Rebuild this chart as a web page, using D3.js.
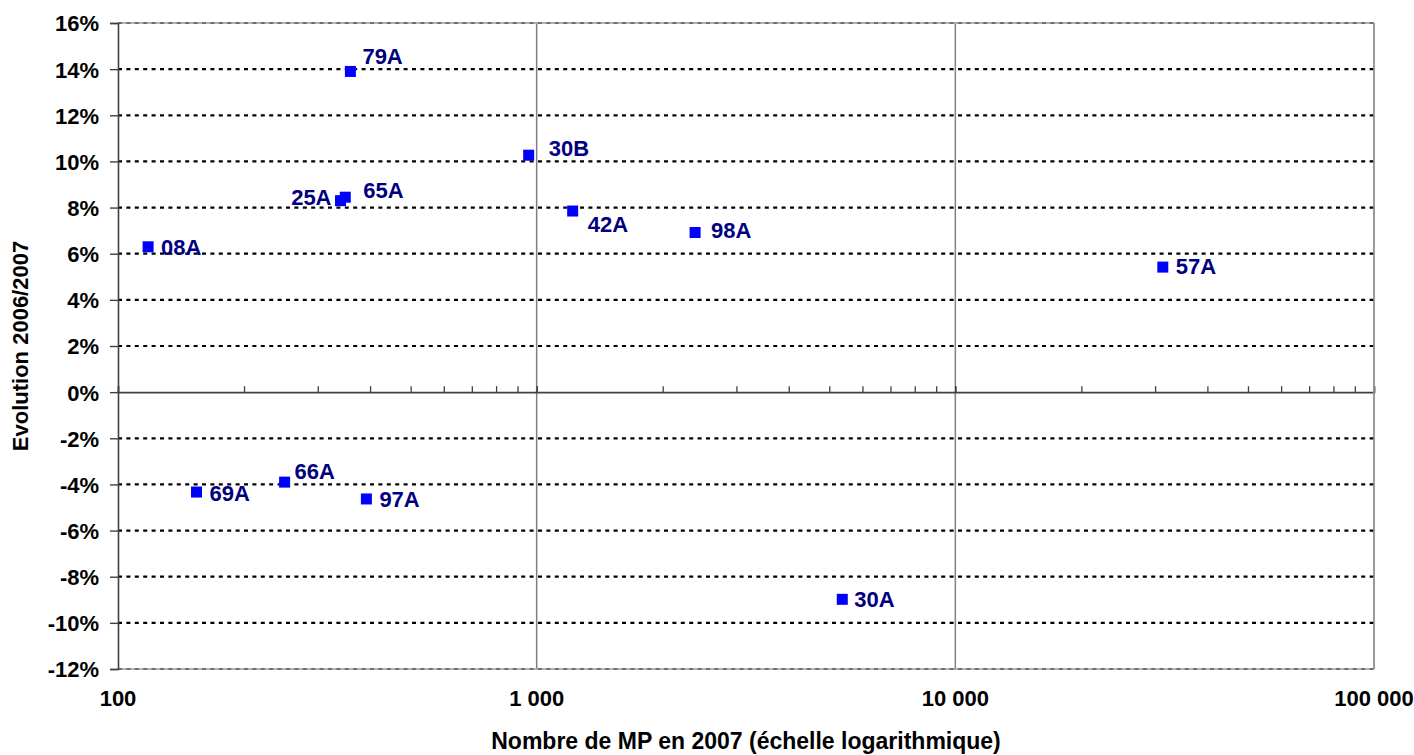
<!DOCTYPE html>
<html>
<head>
<meta charset="utf-8">
<script src="https://cdn.jsdelivr.net/npm/d3@7"></script>
<style>
  body { margin: 0; background: #fff; }
  text { font-family: "Liberation Sans", Arial, sans-serif; font-weight: bold; }
</style>
</head>
<body>
<div id="chart"></div>
<script>
// Data
var names   = ["08A", "79A", "25A", "65A", "30B", "42A", "98A", "57A", "69A", "66A", "97A", "30A"];
var nbMP    = [118, 359, 340, 349, 957, 1219, 2390, 31300, 154, 250, 392, 5370];
var evol    = [6.3, 13.9, 8.3, 8.45, 10.27, 7.85, 6.92, 5.42, -4.33, -3.9, -4.63, -8.98];
var yTicks  = [16, 14, 12, 10, 8, 6, 4, 2, 0, -2, -4, -6, -8, -10, -12];
var xTicks  = [100, 1000, 10000, 100000];

// label placement (offset from the marker, text anchor)
var labelPos = {
    "08A": [13, 8, "start"], "79A": [12, -7, "start"], "25A": [-9, 4, "end"],
    "65A": [18, 1, "start"], "30B": [20, 1, "start"], "42A": [15, 21, "start"],
    "98A": [16, 6, "start"], "57A": [13, 7, "start"], "69A": [13, 9, "start"],
    "66A": [10, -3, "start"], "97A": [13, 8, "start"], "30A": [12, 8, "start"]
};

function init() {
    var points = names.map((n, i) => ({ name: n, x: nbMP[i], y: evol[i] }));
    drawChart(points);
}

function drawChart(points) {
    var w = 1414, h = 755;
    var margin = { top: 23, right: 40, bottom: 86, left: 118 };
    var width = w - margin.left - margin.right;
    var height = h - margin.top - margin.bottom;

    var svg = d3.select("#chart")
        .append("svg")
        .attr("width", w)
        .attr("height", h)
        .append("g")
        .attr("transform", `translate(${margin.left},${margin.top})`);

    var xScale = d3.scaleLog().domain([100, 100000]).range([0, width]);
    var yScale = d3.scaleLinear().domain([-12, 16]).range([height, 0]);

    // vertical gridlines (decades)
    svg.selectAll(".vgrid")
        .data(xTicks.slice(1))
        .enter()
        .append("line")
        .attr("x1", d => xScale(d)).attr("x2", d => xScale(d))
        .attr("y1", 0).attr("y2", height)
        .attr("stroke", "#808080")
        .attr("stroke-width", 1.5);

    // top and bottom border
    svg.append("line").attr("x1", 0).attr("x2", width).attr("y1", 0).attr("y2", 0)
        .attr("stroke", "#9a9a9a").attr("stroke-width", 1.5);
    svg.append("line").attr("x1", 0).attr("x2", width).attr("y1", height).attr("y2", height)
        .attr("stroke", "#9a9a9a").attr("stroke-width", 1.5);

    // horizontal dotted gridlines
    svg.selectAll(".hgrid")
        .data(yTicks.filter(d => d !== 0))
        .enter()
        .append("line")
        .attr("x1", 0).attr("x2", width)
        .attr("y1", d => yScale(d)).attr("y2", d => yScale(d))
        .attr("stroke", d => (d === 16 || d === -12) ? "#707070" : "#000")
        .attr("stroke-width", 2.2)
        .attr("stroke-dasharray", "4,4.4");

    // Y axis
    var yAxis = svg.append("g")
        .call(d3.axisLeft(yScale).tickValues(yTicks).tickSize(8).tickPadding(11).tickFormat(d => d + "%"));
    yAxis.select(".domain").attr("stroke", "#404040").attr("stroke-width", 1.6);
    yAxis.selectAll(".tick line").attr("stroke", "#404040").attr("stroke-width", 1.4);
    yAxis.selectAll("text")
        .style("font-size", "22px").style("font-weight", "bold")
        .attr("fill", "#000").attr("dy", "0.36em");

    // X axis placed at 0%, with minor log ticks pointing up
    var minor = [];
    for (var dec = 100; dec < 100000; dec *= 10) {
        for (var k = 1; k <= 10; k++) minor.push(dec * k);
    }
    var xAxis = svg.append("g")
        .attr("transform", `translate(0,${yScale(0)})`)
        .call(d3.axisTop(xScale).tickValues(minor).tickSize(6).tickFormat(""));
    xAxis.select(".domain").attr("stroke", "#404040").attr("stroke-width", 1.6);
    xAxis.selectAll(".tick line").attr("stroke", "#404040").attr("stroke-width", 1.3);

    // right border
    svg.append("line").attr("x1", width).attr("x2", width).attr("y1", 0).attr("y2", height)
        .attr("stroke", "#9a9a9a").attr("stroke-width", 1.5);

    // X tick labels at the bottom
    var fmt = d3.formatLocale({ decimal: ",", thousands: " ", grouping: [3], currency: ["", "€"] }).format(",d");
    svg.selectAll(".xlab")
        .data(xTicks)
        .enter()
        .append("text")
        .attr("x", d => xScale(d))
        .attr("y", height + 37)
        .attr("text-anchor", "middle")
        .style("font-size", "22px")
        .text(d => fmt(d));

    // Axis titles
    svg.append("text")
        .attr("x", width / 2)
        .attr("y", height + 80)
        .attr("text-anchor", "middle")
        .style("font-size", "23px")
        .text("Nombre de MP en 2007 (échelle logarithmique)");

    svg.append("text")
        .attr("transform", `translate(${-90},${height / 2}) rotate(-90)`)
        .attr("text-anchor", "middle")
        .style("font-size", "22px")
        .text("Evolution 2006/2007");

    // markers
    svg.selectAll(".pt")
        .data(points)
        .enter()
        .append("rect")
        .attr("x", d => xScale(d.x) - 5.5)
        .attr("y", d => yScale(d.y) - 5.5)
        .attr("width", 11)
        .attr("height", 11)
        .attr("fill", "#0000ff");

    // point labels
    svg.selectAll(".lbl")
        .data(points)
        .enter()
        .append("text")
        .attr("x", d => xScale(d.x) + labelPos[d.name][0])
        .attr("y", d => yScale(d.y) + labelPos[d.name][1])
        .attr("text-anchor", d => labelPos[d.name][2])
        .attr("fill", "#000080")
        .style("font-size", "22px")
        .text(d => d.name);
}

window.onload = init;
</script>
</body>
</html>
